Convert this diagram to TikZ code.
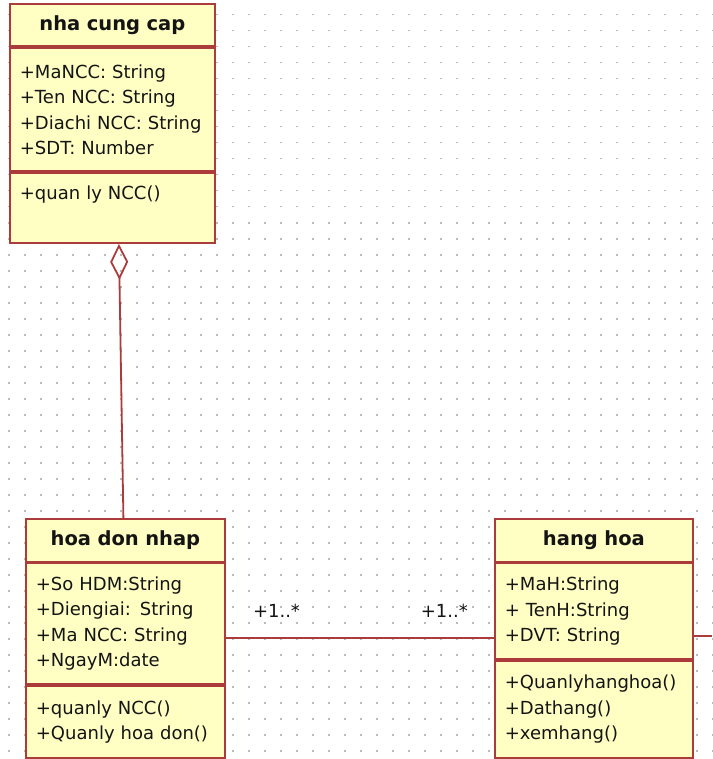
\documentclass[tikz,border=0pt]{standalone}
\usepackage{fontspec}
\setmainfont{DejaVu Sans}
\usetikzlibrary{positioning,arrows.meta}
\pgfdeclarelayer{background}
\pgfsetlayers{background,main}
\definecolor{umlyellow}{RGB}{255,255,196}
\definecolor{umlred}{RGB}{172,60,60}
\definecolor{umltext}{RGB}{20,20,20}
\definecolor{griddot}{RGB}{185,185,185}
\tikzstyle{classhead} = [
  rectangle, draw=umlred, fill=umlyellow, line width=1.8pt, text=umltext,
  font={\fontsize{19.5}{25.5}\selectfont\bfseries}, align=center,
  inner xsep=10pt, inner ysep=0pt, minimum height=42.5pt
]
\tikzstyle{classpart} = [
  rectangle, draw=umlred, fill=umlyellow, line width=1.8pt, text=umltext,
  font={\fontsize{18}{25.5}\selectfont}, align=left,
  inner xsep=10pt, inner ysep=0pt
]
\tikzstyle{assoc} = [draw=umlred, line width=1.8pt]
\tikzstyle{mult} = [text=umltext, font={\fontsize{18}{25.5}\selectfont}, inner sep=0pt]

\begin{document}
\begin{tikzpicture}[x=1pt,y=-1pt]
        \useasboundingbox (0,0) rectangle (712,759);
        % Grid ------------------------------------------------------------------------------------
        \begin{pgfonlayer}{background}
            \foreach \gx in {0,...,44}
                \foreach \gy in {0,...,46}
                    \fill[griddot] ({8+16*\gx},{14+16*\gy}) rectangle ++(1.5,1.5);
        \end{pgfonlayer}
        % nha cung cap ----------------------------------------------------------------------------
        \node[classhead, text width=185pt, anchor=north west](ncc_head) at (9,3){nha cung cap};
        \node[classpart, text width=185pt, minimum height=123pt, below=0pt of ncc_head](ncc_attr){+MaNCC: String\\+Ten NCC: String\\+Diachi NCC: String\\+SDT: Number};
        \node[classpart, text width=185pt, text height=26.5pt, text depth=43.5pt, below=0pt of ncc_attr](ncc_ops){+quan ly NCC()};
        % hoa don nhap ----------------------------------------------------------------------------
        \node[classhead, text width=179pt, anchor=north west](hdn_head) at (25,518){hoa don nhap};
        \node[classpart, text width=179pt, minimum height=121pt, below=0pt of hdn_head](hdn_attr){+So HDM:String\\+Diengiai: String\\+Ma NCC: String\\+NgayM:date};
        \node[classpart, text width=179pt, minimum height=72pt, below=0pt of hdn_attr](hdn_ops){+quanly NCC()\\+Quanly hoa don()};
        % hang hoa --------------------------------------------------------------------------------
        \node[classhead, text width=178pt, anchor=north west](hh_head) at (494,518){hang hoa};
        \node[classpart, text width=178pt, minimum height=96pt, below=0pt of hh_head](hh_attr){+MaH:String\\+ TenH:String\\+DVT: String};
        \node[classpart, text width=178pt, minimum height=97pt, below=0pt of hh_attr](hh_ops){+Quanlyhanghoa()\\+Dathang()\\+xemhang()};
        % Connectors ------------------------------------------------------------------------------
        \coordinate (assoc_start) at ([yshift=-14.5pt]hdn_attr.east);
        \coordinate (assoc_end) at (assoc_start -| hh_attr.west);
        \coordinate (off_right) at (712,636);
        \draw[assoc, {Diamond[open,length=36pt,width=18pt]}-] ([xshift=6.5pt]ncc_ops.south) -- ([xshift=-2pt]hdn_head.north);
        \draw[assoc] (assoc_start) -- (assoc_end);
        \draw[assoc] (off_right -| hh_attr.east) -- (off_right);
        % Multiplicities --------------------------------------------------------------------------
        \node[mult, above right=21pt and 27pt of assoc_start](mult_left){+1..*};
        \node[mult, above left=21pt and 26pt of assoc_end](mult_right){+1..*};
\end{tikzpicture}
\end{document}
